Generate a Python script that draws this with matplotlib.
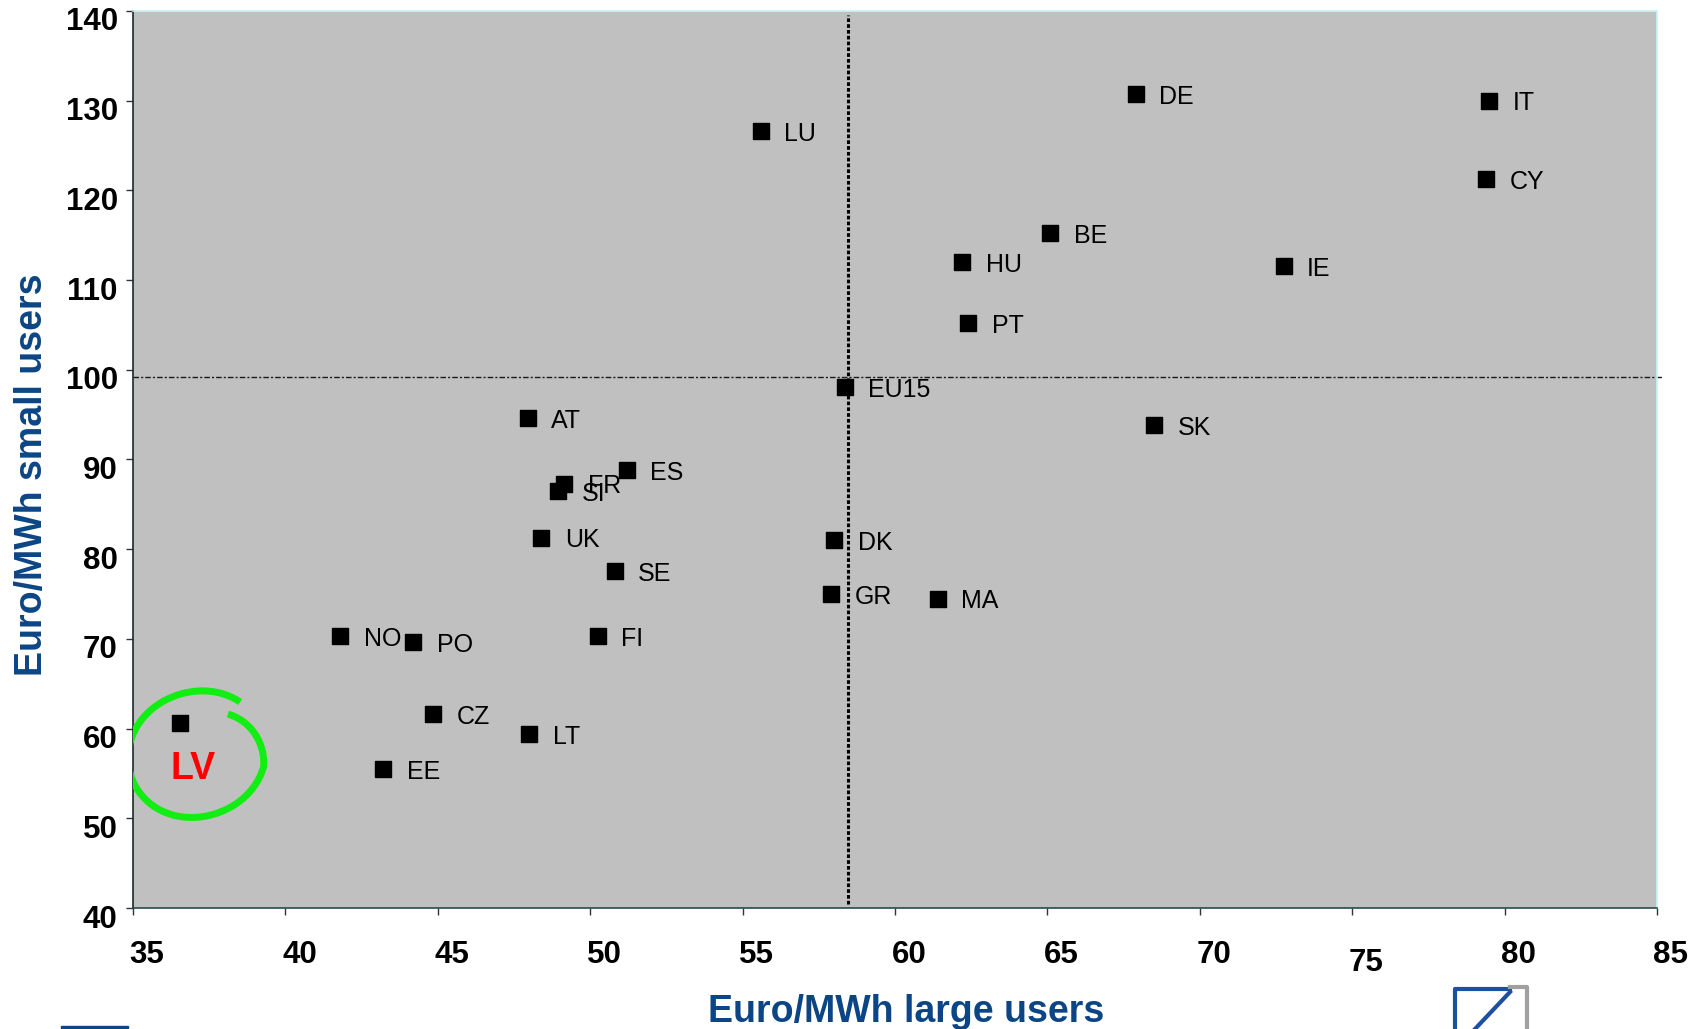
import numpy as np
import matplotlib.pyplot as plt
import matplotlib.transforms as mtransforms
from matplotlib.lines import Line2D
from matplotlib.patches import Rectangle

plt.rcParams['font.family'] = ['Liberation Sans', 'DejaVu Sans']

# country codes and prices (Euro/MWh)
countries = ['LU', 'DE', 'IT', 'CY', 'BE', 'HU', 'IE', 'PT', 'EU15', 'SK',
             'AT', 'ES', 'FR', 'SI', 'UK', 'DK', 'SE', 'GR', 'MA',
             'NO', 'PO', 'FI', 'CZ', 'LT', 'EE']
large_users = [55.6, 67.9, 79.5, 79.4, 65.1, 62.2, 72.75, 62.4, 58.35, 68.5,
               47.95, 51.2, 49.15, 48.95, 48.4, 58.0, 50.8, 57.9, 61.4,
               41.8, 44.2, 50.25, 44.85, 48.0, 43.2]
small_users = [126.6, 130.7, 130.0, 121.3, 115.2, 112.0, 111.6, 105.2, 98.1, 93.8,
               94.6, 88.8, 87.3, 86.5, 81.3, 81.0, 77.6, 75.0, 74.5,
               70.3, 69.6, 70.3, 61.6, 59.4, 55.5]

# highlighted country
lv_large = 36.55
lv_small = 60.6

# reference lines
avg_large = 58.45
avg_small = 99.2

x_ticks = [35, 40, 45, 50, 55, 60, 65, 70, 75, 80, 85]
y_ticks = [40, 50, 60, 70, 80, 90, 100, 110, 120, 130, 140]

blue = '#0b4585'

fig = plt.figure(figsize=(17.06, 10.29), dpi=100)
ax = fig.add_axes([133 / 1706, 1 - 908 / 1029, 1524 / 1706, 897 / 1029])
ax.set_facecolor('#c0c0c0')

ax.scatter(large_users, small_users, marker='s', s=125, color='black', zorder=3)
ax.scatter([lv_large], [lv_small], marker='s', s=125, color='black', zorder=3)
for name, xv, yv in zip(countries, large_users, small_users):
    ax.annotate(name, (xv, yv), xytext=(17, -2), textcoords='offset points',
                va='center', ha='left', fontsize=18, color='black')

ax.axvline(avg_large, ymin=0.004, ymax=0.996, color='black', lw=2.2,
           linestyle=(0, (1.2, 0.7)), zorder=2)
ax.axhline(avg_small, xmin=0, xmax=1.003, color='#1a1a1a', lw=1.0,
           linestyle=(0, (4, 1.5, 1.5, 1.5)), zorder=2, clip_on=False)

# hand drawn green loop around LV
theta = np.radians(np.linspace(50, 412, 300))
shrink = 1 - 0.25 * np.clip((np.degrees(theta) - 350) / 62, 0, 1)
wobble = 1 + 0.06 * np.cos(2 * theta - 0.6)
cx, cy = lv_large + 0.55, lv_small - 3.45
ax.plot(cx + 2.15 * np.cos(theta) * shrink * wobble,
        cy + 7.4 * np.sin(theta) * shrink * wobble,
        color='#11ee11', lw=5, solid_capstyle='butt', zorder=4)
ax.text(lv_large + 0.42, lv_small - 5.1, 'LV', color='red', fontsize=27,
        fontweight='bold', ha='center', va='center', zorder=5)

ax.set_xlim(35, 85)
ax.set_ylim(40, 140)
ax.set_xticks(x_ticks)
ax.set_yticks(y_ticks)
ax.tick_params(axis='both', direction='out', length=5, width=1, color='#333333',
               labelsize=22.5)
ax.tick_params(axis='x', pad=18)
ax.tick_params(axis='y', pad=6)
for lab in ax.get_xticklabels() + ax.get_yticklabels():
    lab.set_fontweight('bold')

# tick labels in the original sit a little off their ticks
for lab in ax.get_xticklabels():
    dy = -8 if lab.get_text() == '75' else 0
    lab.set_transform(lab.get_transform() +
                      mtransforms.ScaledTranslation(0.14, dy / 100, fig.dpi_scale_trans))
for lab in ax.get_yticklabels():
    lab.set_transform(lab.get_transform() +
                      mtransforms.ScaledTranslation(0, -0.08, fig.dpi_scale_trans))

ax.spines['left'].set_color('#1a2a2a')
ax.spines['bottom'].set_color('#2a4a4a')
ax.spines['top'].set_color('#c8f4f4')
ax.spines['right'].set_color('#c8f4f4')
for s in ax.spines.values():
    s.set_linewidth(1.2)

fig.text(906 / 1706, 1 - 1022 / 1029, 'Euro/MWh large users', color=blue,
         fontsize=27, fontweight='bold', ha='center', va='baseline')
fig.text(42 / 1706, 1 - 475 / 1029, 'Euro/MWh small users', color=blue,
         fontsize=27, fontweight='bold', ha='center', va='baseline', rotation=90,
         rotation_mode='anchor')

# small decorations at the bottom edge
fig.add_artist(Rectangle((61 / 1706, 0), 67 / 1706, 3 / 1029,
                         transform=fig.transFigure, color=blue))
fig.add_artist(Line2D([1455 / 1706, 1455 / 1706, 1510 / 1706],
                      [0, 1 - 989 / 1029, 1 - 989 / 1029],
                      transform=fig.transFigure, color='#1f4fa0', lw=3))
fig.add_artist(Line2D([1510 / 1706, 1475 / 1706], [1 - 992 / 1029, 0],
                      transform=fig.transFigure, color='#1f4fa0', lw=3))
fig.add_artist(Line2D([1510 / 1706, 1527 / 1706, 1527 / 1706],
                      [1 - 987 / 1029, 1 - 987 / 1029, 0],
                      transform=fig.transFigure, color='#a0a0a0', lw=3))

fig.savefig('out.png', dpi=100)
